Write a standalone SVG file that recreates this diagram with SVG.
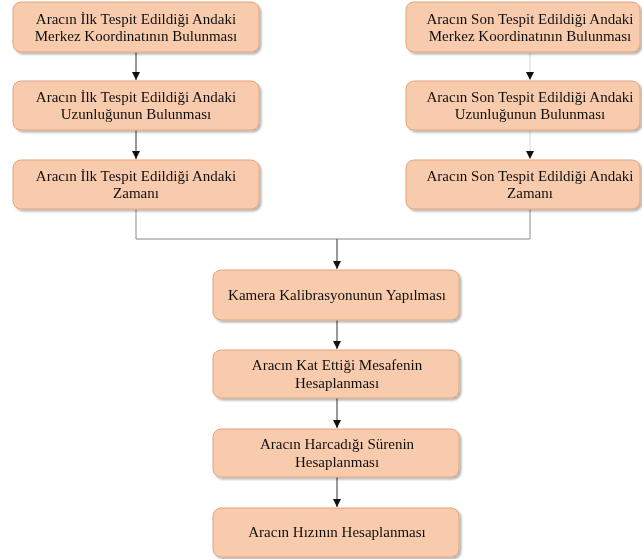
<svg xmlns="http://www.w3.org/2000/svg" width="642" height="559" viewBox="0 0 642 559">
<defs>
<style>
.box{fill:#f8cbad;stroke:#e4a47c;stroke-width:1}
text{font-family:"Liberation Serif","Times New Roman",serif;font-size:15px;fill:#111;text-anchor:middle}
.c{fill:none;stroke:#333;stroke-width:1}
.lc{fill:none;stroke:#d4d4d4;stroke-width:1}
.gc{fill:none;stroke:#8a8a8a;stroke-width:1}
</style>
<marker id="ah" viewBox="0 0 10 10" refX="10" refY="5" markerWidth="8" markerHeight="8" markerUnits="userSpaceOnUse" orient="auto">
<path d="M0,0 L10,5 L0,10 z" fill="#111"/>
</marker>
<filter id="ds" x="-5%" y="-10%" width="112%" height="130%">
<feGaussianBlur in="SourceAlpha" stdDeviation="1.2"/>
<feOffset dx="1.5" dy="2" result="b"/>
<feComponentTransfer><feFuncA type="linear" slope="0.3"/></feComponentTransfer>
<feMerge><feMergeNode/><feMergeNode in="SourceGraphic"/></feMerge>
</filter>
</defs>
<rect width="642" height="559" fill="#fff"/>
<g id="connectors">
<line class="c" x1="136" y1="52" x2="136" y2="80" marker-end="url(#ah)"/>
<line class="c" x1="136" y1="130" x2="136" y2="159" marker-end="url(#ah)"/>
<line class="lc" x1="530" y1="52" x2="530" y2="80" marker-end="url(#ah)"/>
<line class="lc" x1="530" y1="130" x2="530" y2="159" marker-end="url(#ah)"/>
<polyline class="gc" points="136,209 136,239 530,239 530,209"/>
<line class="c" x1="337" y1="239" x2="337" y2="269" marker-end="url(#ah)"/>
<line class="c" x1="337" y1="320" x2="337" y2="349" marker-end="url(#ah)"/>
<line class="c" x1="337" y1="398" x2="337" y2="428" marker-end="url(#ah)"/>
<line class="c" x1="337" y1="477" x2="337" y2="507" marker-end="url(#ah)"/>
</g>
<g id="n1" filter="url(#ds)"><rect class="box" x="13" y="2" width="246" height="50" rx="8"/>
<text x="136" y="24">Aracın İlk Tespit Edildiği Andaki</text><text x="136" y="41">Merkez Koordinatının Bulunması</text></g>
<g id="n2" filter="url(#ds)"><rect class="box" x="13" y="81" width="246" height="49" rx="8"/>
<text x="136" y="102">Aracın İlk Tespit Edildiği Andaki</text><text x="136" y="119">Uzunluğunun Bulunması</text></g>
<g id="n3" filter="url(#ds)"><rect class="box" x="13" y="160" width="246" height="49" rx="8"/>
<text x="136" y="181">Aracın İlk Tespit Edildiği Andaki</text><text x="136" y="198">Zamanı</text></g>
<g id="n4" filter="url(#ds)"><rect class="box" x="406" y="2" width="234" height="50" rx="8"/>
<text x="530" y="24">Aracın Son Tespit Edildiği Andaki</text><text x="530" y="41">Merkez Koordinatının Bulunması</text></g>
<g id="n5" filter="url(#ds)"><rect class="box" x="406" y="81" width="234" height="49" rx="8"/>
<text x="530" y="102">Aracın Son Tespit Edildiği Andaki</text><text x="530" y="119">Uzunluğunun Bulunması</text></g>
<g id="n6" filter="url(#ds)"><rect class="box" x="406" y="160" width="234" height="49" rx="8"/>
<text x="530" y="181">Aracın Son Tespit Edildiği Andaki</text><text x="530" y="198">Zamanı</text></g>
<g id="n7" filter="url(#ds)"><rect class="box" x="213" y="270" width="246" height="50" rx="8"/>
<text x="337" y="300">Kamera Kalibrasyonunun Yapılması</text></g>
<g id="n8" filter="url(#ds)"><rect class="box" x="213" y="350" width="246" height="48" rx="8"/>
<text x="337" y="370">Aracın Kat Ettiği Mesafenin</text><text x="337" y="388">Hesaplanması</text></g>
<g id="n9" filter="url(#ds)"><rect class="box" x="213" y="429" width="246" height="48" rx="8"/>
<text x="337" y="449">Aracın Harcadığı Sürenin</text><text x="337" y="467">Hesaplanması</text></g>
<g id="n10" filter="url(#ds)"><rect class="box" x="213" y="508" width="246" height="49" rx="8"/>
<text x="337" y="537">Aracın Hızının Hesaplanması</text></g>
</svg>
